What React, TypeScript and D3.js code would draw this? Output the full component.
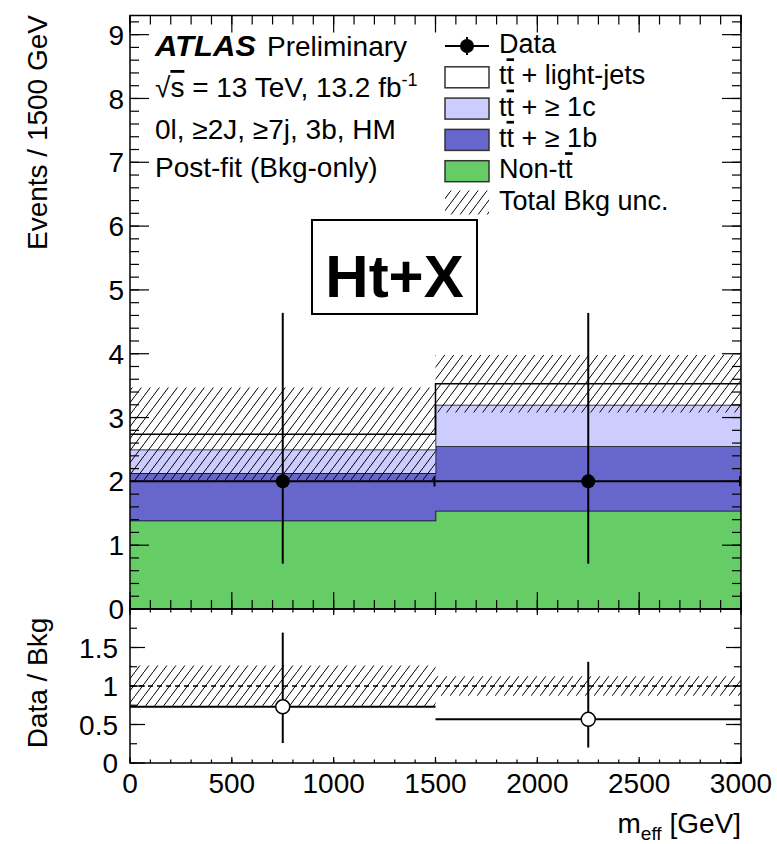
import React from 'react'
import * as d3 from 'd3'

// binned m_eff histogram, two bins of 1500 GeV
const binEdges = [0, 1500, 3000]
const nonTT = [1.385, 1.54]
const ttB = [0.745, 1.01]
const ttC = [0.37, 0.65]
const ttLight = [0.24, 0.33]
const bkgUnc = [0.73, 0.45]
const dataCounts = [2, 2]
const dataErrUp = [2.64, 2.64]
const dataErrDown = [1.29, 1.29]

const xTicksMajor = [0, 500, 1000, 1500, 2000, 2500, 3000]
const yTicksTop = [0, 1, 2, 3, 4, 5, 6, 7, 8, 9]
const yTicksRatio = [0, 0.5, 1, 1.5]

const layerKeys = ['nonTT', 'ttB', 'ttC', 'ttLight']
const layerColors = {
  nonTT: '#66cc66',
  ttB: '#6666cc',
  ttC: '#ccccff',
  ttLight: '#ffffff'
}
const legendLabels = ['Data', 'tt + light-jets', 'tt + ≥ 1c', 'tt + ≥ 1b', 'Non-tt', 'Total Bkg unc.']

const W = 777
const H = 844
const left = 130
const right = 741
const top = 15.5
const mid = 609
const bottom = 763
const font = '"Liberation Sans", Arial, Helvetica, sans-serif'

const x = d3.scaleLinear().domain([0, 3000]).range([left, right])
const yTop = d3.scaleLinear().domain([0, 9.3]).range([mid, top])
const yRat = d3.scaleLinear().domain([0, 2]).range([bottom, mid])

const rows = binEdges.slice(0, -1).map((e, i) => ({
  x0: e,
  x1: binEdges[i + 1],
  nonTT: nonTT[i],
  ttB: ttB[i],
  ttC: ttC[i],
  ttLight: ttLight[i]
}))
const stacked = d3.stack().keys(layerKeys)(rows)
const totals = rows.map((r) => r.nonTT + r.ttB + r.ttC + r.ttLight)

// step points: value holds to the next bin edge
const stepPts = (vals) => binEdges.map((e, i) => [e, vals[Math.min(i, vals.length - 1)]])

function stepArea (lo, hi, ys) {
  const pts = binEdges.map((e, i) => i)
  return d3.area()
    .x((i) => x(binEdges[i]))
    .y0((i) => ys(lo[Math.min(i, lo.length - 1)]))
    .y1((i) => ys(hi[Math.min(i, hi.length - 1)]))
    .curve(d3.curveStepAfter)(pts)
}

function stepLine (vals, ys) {
  return d3.line()
    .x((d) => x(d[0]))
    .y((d) => ys(d[1]))
    .curve(d3.curveStepAfter)(stepPts(vals))
}

function Ticks ({ values, axis, scale, at, len, dir }) {
  return (
    <g stroke='#000' strokeWidth={1.2}>
      {values.map((v, i) => {
        const p = scale(v)
        if (axis === 'x') return <line key={i} x1={p} x2={p} y1={at} y2={at + dir * len} />
        return <line key={i} y1={p} y2={p} x1={at} x2={at + dir * len} />
      })}
    </g>
  )
}

function Bar ({ children, ...rest }) {
  // t with an overbar
  return <tspan textDecoration='overline' {...rest}>{children}</tspan>
}

export default function App () {
  const xMinor = d3.range(0, 3001, 100)
  const yMinorTop = d3.range(0, 9.3, 0.2)
  const yMinorRat = d3.range(0, 2.001, 0.25)
  const ratio = dataCounts.map((d, i) => d / totals[i])
  const legendY = (i) => 46 + i * 31.3

  return (
    <div style={{ position: 'absolute', left: 0, top: 0 }}>
      <svg width={W} height={H} style={{ display: 'block', background: '#fff' }} fontFamily={font}>
        <defs>
          <pattern id='hatch' patternUnits='userSpaceOnUse' width={9} height={12}>
            <path d='M-1,13.33 L10,-1.33' stroke='#000' strokeWidth={1} />
          </pattern>
          <clipPath id='clipTop'><rect x={left} y={top} width={right - left} height={mid - top} /></clipPath>
          <clipPath id='clipRat'><rect x={left} y={mid} width={right - left} height={bottom - mid} /></clipPath>
        </defs>

        {/* upper panel: stacked backgrounds */}
        <g clipPath='url(#clipTop)'>
          {stacked.map((layer) => {
            const lo = layer.map((d) => d[0])
            const hi = layer.map((d) => d[1])
            return (
              <g key={layer.key}>
                <path d={stepArea(lo, hi, yTop)} fill={layerColors[layer.key]} />
                <path d={stepLine(hi, yTop)} fill='none' stroke='#000' strokeWidth={1.5} />
              </g>
            )
          })}
          <path
            d={stepArea(totals.map((t, i) => t - bkgUnc[i]), totals.map((t, i) => t + bkgUnc[i]), yTop)}
            fill='url(#hatch)'
          />
          {/* data */}
          <g stroke='#000' strokeWidth={2}>
            {rows.map((r, i) => (
              <g key={i}>
                <line x1={x(r.x0)} x2={x(r.x1)} y1={yTop(dataCounts[i])} y2={yTop(dataCounts[i])} />
                <line x1={x(r.x1) - 1} x2={x(r.x1) - 1} y1={yTop(dataCounts[i]) - 5} y2={yTop(dataCounts[i]) + 5} />
                <line
                  x1={x((r.x0 + r.x1) / 2)} x2={x((r.x0 + r.x1) / 2)}
                  y1={yTop(dataCounts[i] + dataErrUp[i])} y2={yTop(dataCounts[i] - dataErrDown[i])}
                />
                <circle cx={x((r.x0 + r.x1) / 2)} cy={yTop(dataCounts[i])} r={7} fill='#000' stroke='none' />
              </g>
            ))}
          </g>
        </g>

        {/* ratio panel */}
        <g clipPath='url(#clipRat)'>
          <path
            d={stepArea(totals.map((t, i) => 1 - bkgUnc[i] / t), totals.map((t, i) => 1 + bkgUnc[i] / t), yRat)}
            fill='url(#hatch)'
          />
          <line x1={x(0)} x2={x(3000)} y1={yRat(1)} y2={yRat(1)} stroke='#000' strokeWidth={1.5} strokeDasharray='5,4' />
          <g stroke='#000' strokeWidth={2}>
            {rows.map((r, i) => {
              const cx = x((r.x0 + r.x1) / 2)
              return (
                <g key={i}>
                  <line x1={x(r.x0)} x2={x(r.x1)} y1={yRat(ratio[i])} y2={yRat(ratio[i])} />
                  <line
                    x1={cx} x2={cx}
                    y1={yRat((dataCounts[i] + dataErrUp[i]) / totals[i])}
                    y2={yRat((dataCounts[i] - dataErrDown[i]) / totals[i])}
                  />
                  <circle cx={cx} cy={yRat(ratio[i])} r={7} fill='#fff' strokeWidth={1.5} />
                </g>
              )
            })}
          </g>
        </g>

        {/* frames */}
        <rect x={left} y={top} width={right - left} height={mid - top} fill='none' stroke='#000' strokeWidth={1.5} />
        <rect x={left} y={mid} width={right - left} height={bottom - mid} fill='none' stroke='#000' strokeWidth={1.5} />

        {/* ticks, upper panel */}
        <Ticks values={xTicksMajor} axis='x' scale={x} at={top} len={17} dir={1} />
        <Ticks values={xMinor} axis='x' scale={x} at={top} len={9} dir={1} />
        <Ticks values={xTicksMajor} axis='x' scale={x} at={mid} len={17} dir={-1} />
        <Ticks values={xMinor} axis='x' scale={x} at={mid} len={9} dir={-1} />
        <Ticks values={yTicksTop} axis='y' scale={yTop} at={left} len={19} dir={1} />
        <Ticks values={yMinorTop} axis='y' scale={yTop} at={left} len={9} dir={1} />
        <Ticks values={yTicksTop} axis='y' scale={yTop} at={right} len={19} dir={-1} />
        <Ticks values={yMinorTop} axis='y' scale={yTop} at={right} len={9} dir={-1} />

        {/* ticks, ratio panel */}
        <Ticks values={xTicksMajor} axis='x' scale={x} at={mid} len={6} dir={1} />
        <Ticks values={xMinor} axis='x' scale={x} at={mid} len={3.5} dir={1} />
        <Ticks values={xTicksMajor} axis='x' scale={x} at={bottom} len={6} dir={-1} />
        <Ticks values={xMinor} axis='x' scale={x} at={bottom} len={3.5} dir={-1} />
        <Ticks values={yTicksRatio} axis='y' scale={yRat} at={left} len={15} dir={1} />
        <Ticks values={yMinorRat} axis='y' scale={yRat} at={left} len={7} dir={1} />
        <Ticks values={yTicksRatio} axis='y' scale={yRat} at={right} len={15} dir={-1} />
        <Ticks values={yMinorRat} axis='y' scale={yRat} at={right} len={7} dir={-1} />

        {/* tick labels */}
        <g fontSize={28} textAnchor='end'>
          {yTicksTop.map((v) => (
            <text key={v} x={124} y={yTop(v)} dy='0.36em'>{v}</text>
          ))}
          {yTicksRatio.map((v) => (
            <text key={v} x={118} y={yRat(v)} dy='0.36em'>{v}</text>
          ))}
        </g>
        <g fontSize={28} textAnchor='middle'>
          {xTicksMajor.map((v) => (
            <text key={v} x={x(v)} y={793}>{v}</text>
          ))}
        </g>

        {/* axis titles */}
        <text transform='translate(47,15) rotate(-90)' fontSize={28} textAnchor='end'>Events / 1500 GeV</text>
        <text transform='translate(47,683) rotate(-90)' fontSize={28} textAnchor='middle'>Data / Bkg</text>
        <text x={741} y={833} fontSize={28} textAnchor='end'>
          m<tspan fontSize={19} dy={7}>eff</tspan><tspan dy={-7}> [GeV]</tspan>
        </text>

        {/* labels */}
        <g fontSize={28}>
          <text x={155} y={56} fontSize={29} fontWeight='bold' fontStyle='italic' textLength={101} lengthAdjust='spacingAndGlyphs'>ATLAS</text>
          <text x={267} y={56}>Preliminary</text>
          <text x={155} y={97}>√<Bar>s</Bar> = 13 TeV, 13.2 fb<tspan fontSize={18} dy={-11}>-1</tspan></text>
          <text x={155} y={139}>0l, ≥2J, ≥7j, 3b, HM</text>
          <text x={155} y={177}>Post-fit (Bkg-only)</text>
        </g>

        {/* legend */}
        <g fontSize={27}>
          <line x1={445} x2={489} y1={legendY(0)} y2={legendY(0)} stroke='#000' strokeWidth={2} />
          <line x1={467} x2={467} y1={legendY(0) - 9} y2={legendY(0) + 9} stroke='#000' strokeWidth={2} />
          <circle cx={467} cy={legendY(0)} r={7} fill='#000' />
          {['ttLight', 'ttC', 'ttB', 'nonTT'].map((k, i) => (
            <rect
              key={k} x={445} y={legendY(i + 1) - 10.5} width={44} height={21}
              fill={layerColors[k]} stroke='#333' strokeWidth={1.5}
            />
          ))}
          <rect x={445} y={legendY(5) - 12} width={44} height={24} fill='url(#hatch)' />
          {legendLabels.map((lab, i) => {
            const y = legendY(i) + 7
            if (lab.startsWith('tt')) {
              return <text key={i} x={499} y={y}>t<Bar>t</Bar>{lab.slice(2)}</text>
            }
            if (lab.startsWith('Non-tt')) {
              return <text key={i} x={499} y={y}>Non-t<Bar>t</Bar></text>
            }
            return <text key={i} x={499} y={y}>{lab}</text>
          })}
        </g>

        {/* signal region tag */}
        <rect x={312} y={220} width={165} height={94} fill='#fff' stroke='#000' strokeWidth={2} />
        <text x={394.5} y={297} fontSize={60} fontWeight='bold' textAnchor='middle'>Ht+X</text>
      </svg>
    </div>
  )
}
